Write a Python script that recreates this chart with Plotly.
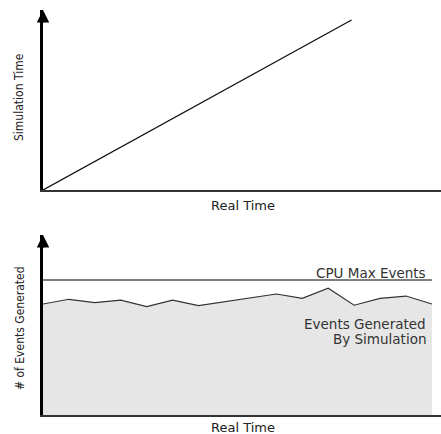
import plotly.graph_objects as go

# Top panel data: simulation time vs real time
real_time_top = [0, 11.9]
sim_time = [0, 100]

# Bottom panel data: events generated per real-time step
real_time = list(range(16))
events = [82.2, 85.7, 83.2, 85.0, 80.2, 85.0, 81.0, 83.7, 86.7, 89.6, 86.4, 93.9, 81.3, 86.4, 88.1, 82.2]
cpu_max_x = [0, 15]
cpu_max = [100, 100]

W, H = 441, 434
def px(x):
    return x / W
def py(y):
    return (H - y) / H

fig = go.Figure()

fig.add_trace(go.Scatter(x=real_time_top, y=sim_time, mode="lines",
                         line=dict(color="#111111", width=1.3),
                         xaxis="x", yaxis="y", hoverinfo="skip"))

fig.add_trace(go.Scatter(x=real_time, y=events, mode="lines",
                         line=dict(color="#333333", width=1.2),
                         fill="tozeroy", fillcolor="#e6e6e6",
                         xaxis="x2", yaxis="y2", hoverinfo="skip"))

fig.add_trace(go.Scatter(x=cpu_max_x, y=cpu_max, mode="lines",
                         line=dict(color="#555555", width=1.5),
                         xaxis="x2", yaxis="y2", hoverinfo="skip"))

xr = [0, 15.35]
top_ymax = 105.88
bot_ymax = 133.3

common_x = dict(range=xr, showgrid=False, zeroline=False, showticklabels=False,
                ticks="", showline=True, linecolor="#333333", linewidth=2, fixedrange=True)
common_y = dict(showgrid=False, zeroline=False, showticklabels=False,
                ticks="", showline=True, linecolor="#000000", linewidth=2.5, fixedrange=True)

fig.update_layout(
    width=W, height=H,
    margin=dict(l=0, r=0, t=0, b=0),
    paper_bgcolor="white", plot_bgcolor="white",
    showlegend=False,
    xaxis=dict(domain=[px(43), 1], anchor="y", **common_x),
    yaxis=dict(domain=[py(190), py(10)], anchor="x", range=[0, top_ymax], **common_y),
    xaxis2=dict(domain=[px(43), 1], anchor="y2", **common_x),
    yaxis2=dict(domain=[py(415), py(235)], anchor="x2", range=[0, bot_ymax], **common_y),
)

label_font = dict(family="DejaVu Sans", size=13, color="#222222")
side_font = dict(family="Liberation Sans Narrow, DejaVu Sans Condensed", size=12, color="#222222")
note_font = dict(family="DejaVu Sans", size=13.5, color="#333333")

annotations = [
    # arrows on y axes
    dict(x=0, y=top_ymax, xref="x", yref="y", ax=0, ay=14,
         text="", showarrow=True, arrowhead=2, arrowsize=1, arrowwidth=2.5, arrowcolor="#000000"),
    dict(x=0, y=bot_ymax, xref="x2", yref="y2", ax=0, ay=14,
         text="", showarrow=True, arrowhead=2, arrowsize=1, arrowwidth=2.5, arrowcolor="#000000"),
    # axis titles
    dict(x=px(243), y=py(205), xref="paper", yref="paper", text="Real Time", showarrow=False,
         font=label_font, xanchor="center", yanchor="middle"),
    dict(x=px(243), y=py(427), xref="paper", yref="paper", text="Real Time", showarrow=False,
         font=label_font, xanchor="center", yanchor="middle"),
    dict(x=px(19), y=py(97), xref="paper", yref="paper", text="Simulation Time", showarrow=False,
         font=side_font, textangle=-90, xanchor="center", yanchor="middle"),
    dict(x=px(20), y=py(328), xref="paper", yref="paper", text="# of Events Generated", showarrow=False,
         font=side_font, textangle=-90, xanchor="center", yanchor="middle"),
    # series labels
    dict(x=px(428), y=py(273), xref="paper", yref="paper", text="CPU Max Events", showarrow=False,
         font=note_font, xanchor="right", yanchor="middle"),
    dict(x=px(428), y=py(324), xref="paper", yref="paper", text="Events Generated", showarrow=False,
         font=note_font, xanchor="right", yanchor="middle"),
    dict(x=px(428), y=py(339), xref="paper", yref="paper", text="By Simulation", showarrow=False,
         font=note_font, xanchor="right", yanchor="middle"),
]
fig.update_layout(annotations=annotations)

fig.write_html("out.html",
               config={"displayModeBar": False},
               post_script="document.body.style.margin='0';document.body.style.overflow='hidden';")
